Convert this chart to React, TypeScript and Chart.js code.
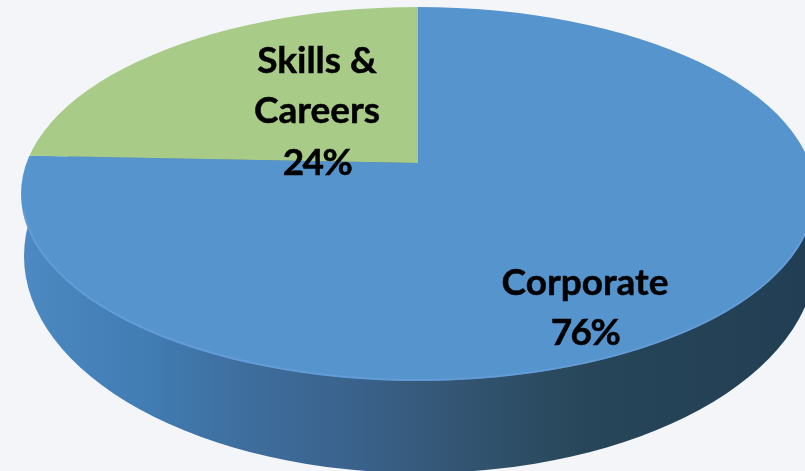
import React, { useEffect, useRef } from "react";
import { Chart, registerables } from "chart.js";

Chart.register(...registerables);

const categories = ["Corporate", "Skills & Careers"];
const shares = [76, 24];
const sliceColors = ["#5694ce", "#a8cc88"];
const labelLines = [
  { lines: ["Corporate", "76%"], x: 585, ys: [295, 345] },
  { lines: ["Skills &", "Careers", "24%"], x: 317, ys: [73, 123, 175] },
];

const BG = "#f3f5f9";
const TOP = { cx: 418, cy: 194, rx: 397, ry: 187 };
const BOTTOM = { cx: 420, cy: 256, rx: 396, ry: 217 };
const APEX = { x: 418, y: 163 };

const tiltPlugin = {
  id: "tilt",
  beforeDatasetsDraw(chart: any) {
    const { ctx } = chart;
    const g = ctx.createLinearGradient(22, 0, 805, 0);
    g.addColorStop(0, "#4d89c2");
    g.addColorStop(0.16, "#417cb3");
    g.addColorStop(0.28, "#3e6e9e");
    g.addColorStop(0.4, "#3b648f");
    g.addColorStop(0.58, "#32536f");
    g.addColorStop(0.72, "#274659");
    g.addColorStop(1, "#223e54");
    ctx.save();
    ctx.beginPath();
    ctx.ellipse(BOTTOM.cx, BOTTOM.cy, BOTTOM.rx, BOTTOM.ry, 0, 0, Math.PI * 2);
    ctx.fillStyle = g;
    ctx.fill();
    ctx.restore();

    const arc = chart.getDatasetMeta(0).data[0];
    const sx = 800 / arc.outerRadius;
    const sy = 240 / arc.outerRadius;
    ctx.save();
    ctx.beginPath();
    ctx.ellipse(TOP.cx, TOP.cy, TOP.rx, TOP.ry, 0, 0, Math.PI * 2);
    ctx.clip();
    ctx.translate(APEX.x, APEX.y);
    ctx.scale(sx, sy);
    ctx.translate(-arc.x, -arc.y);
  },
  afterDatasetsDraw(chart: any) {
    const { ctx } = chart;
    ctx.restore();
    ctx.save();
    ctx.beginPath();
    ctx.ellipse(TOP.cx, TOP.cy, TOP.rx - 1, TOP.ry - 1, 0, 0.03 * Math.PI, 0.97 * Math.PI);
    ctx.strokeStyle = "rgba(105,160,220,0.7)";
    ctx.lineWidth = 2;
    ctx.stroke();
    ctx.fillStyle = "#000000";
    ctx.strokeStyle = "#000000";
    ctx.lineWidth = 0.5;
    ctx.font = "bold 37px Lato";
    ctx.textAlign = "center";
    ctx.textBaseline = "alphabetic";
    labelLines.forEach((l) =>
      l.lines.forEach((t, i) => {
        ctx.letterSpacing = t.endsWith("%") ? "-1.5px" : "0px";
        ctx.fillText(t, l.x, l.ys[i]);
        ctx.strokeText(t, l.x, l.ys[i]);
      })
    );
    ctx.restore();
  },
};

export default function App() {
  const ref = useRef<HTMLCanvasElement>(null);
  useEffect(() => {
    document.body.style.margin = "0";
    document.body.style.background = BG;
    const chart = new Chart(ref.current!, {
      type: "pie",
      data: {
        labels: categories,
        datasets: [{ data: shares, backgroundColor: sliceColors, borderWidth: 0, clip: false } as any],
      },
      options: {
        responsive: false,
        animation: false,
        devicePixelRatio: 1,
        plugins: { legend: { display: false }, tooltip: { enabled: false } },
      },
      plugins: [tiltPlugin],
    } as any);
    return () => chart.destroy();
  }, []);
  return (
    <div style={{ width: 805, height: 471, overflow: "hidden", background: BG }}>
      <canvas ref={ref} width={805} height={471} style={{ display: "block", filter: "blur(0.5px)" }} />
    </div>
  );
}
